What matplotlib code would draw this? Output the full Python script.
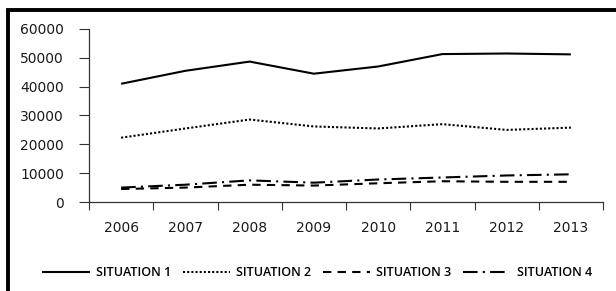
import matplotlib
matplotlib.use("Agg")
import matplotlib.pyplot as plt
from matplotlib.lines import Line2D
from matplotlib.patches import Rectangle

years = ["2006", "2007", "2008", "2009", "2010", "2011", "2012", "2013"]
situation1 = [41000, 45500, 48700, 44500, 47000, 51300, 51500, 51200]
situation2 = [22300, 25500, 28600, 26200, 25500, 27000, 25000, 25800]
situation3 = [4500, 5000, 6000, 5700, 6500, 7200, 7000, 7000]
situation4 = [5000, 6000, 7500, 6700, 7800, 8500, 9200, 9600]
series_labels = ["SITUATION 1", "SITUATION 2", "SITUATION 3", "SITUATION 4"]
yticks = [0, 10000, 20000, 30000, 40000, 50000, 60000]

W, H = 616, 291
fig = plt.figure(figsize=(W / 100, H / 100), dpi=100)
fig.patch.set_facecolor("white")

# outer border (right and bottom run off the image)
fig.patches.append(Rectangle((7.5 / W, -0.1), 1.2, 1.1 - 9.5 / H,
                             transform=fig.transFigure, fill=False,
                             edgecolor="black", linewidth=2.8, zorder=10))

ax = fig.add_axes([89 / W, 1 - 202 / H, (603 - 89) / W, (202 - 29) / H])
x = list(range(len(years)))
styles = [
    dict(linestyle="-", linewidth=1.5),
    dict(linestyle=(0, (1, 1)), linewidth=1.5),
    dict(linestyle=(0, (4, 3)), linewidth=1.5),
    dict(linestyle=(0, (7, 2.5, 1, 2.5)), linewidth=1.5),
]
data = [situation1, situation2, situation3, situation4]
for vals, st in zip(data, styles):
    ax.plot(x, vals, color="black", solid_capstyle="butt", dash_capstyle="butt", **st)

ax.set_xlim(-0.5, len(years) - 0.5)
ax.set_ylim(0, 60000)
ax.set_yticks(yticks)
ax.set_yticklabels([str(v) for v in yticks], fontsize=10, family="DejaVu Sans", color="#1a1a1a")
ax.set_xticks([i + 0.5 for i in range(-1, len(years))])
ax.set_xticklabels([""] * (len(years) + 1))
ax.set_xticks(x, minor=True)
ax.set_xticklabels(years, minor=True, fontsize=10, family="DejaVu Sans", color="#1a1a1a")
ax.tick_params(axis="x", which="minor", length=0, pad=14)
ax.tick_params(axis="x", which="major", length=6, direction="out", color="#333333")
ax.tick_params(axis="y", length=7, direction="out", pad=11, color="#333333")
for s in ["top", "right"]:
    ax.spines[s].set_visible(False)
ax.spines["left"].set_color("#333333")
ax.spines["bottom"].set_color("#333333")
ax.spines["left"].set_linewidth(0.9)
ax.spines["bottom"].set_linewidth(0.9)

handles = [Line2D([], [], color="black", solid_capstyle="butt", **st) for st in styles]
fig.legend(handles, series_labels, loc="center", bbox_to_anchor=(317 / W, 1 - 273 / H),
           ncol=4, frameon=False, handlelength=3.8, handletextpad=0.5, columnspacing=0.9,
           prop=dict(family="Open Sans", size=9, weight="semibold"))

fig.savefig("out.png", dpi=100, facecolor="white")
